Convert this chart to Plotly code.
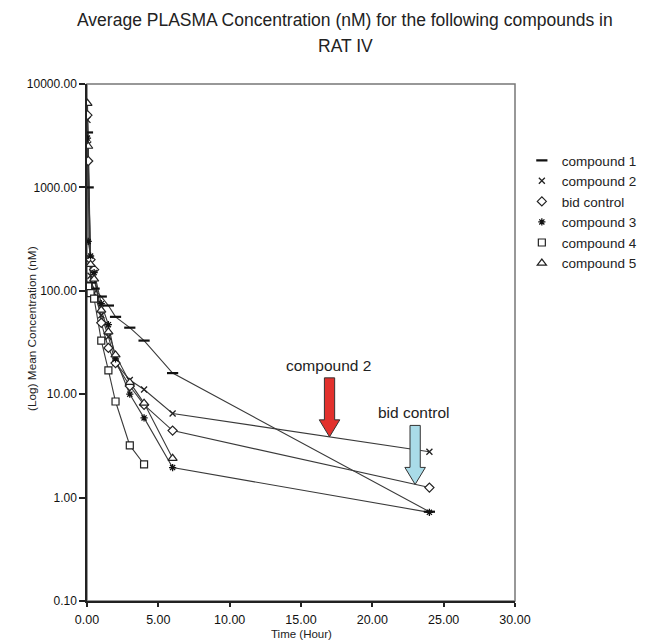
import math
import plotly.graph_objects as go

# ---------------- data ----------------
series_names = ["compound 1", "compound 2", "bid control", "compound 3", "compound 4", "compound 5"]

t_c1 = [0.033, 0.083, 0.25, 0.5, 1, 1.5, 2, 3, 4, 6, 24]
v_c1 = [3400, 1000, 120, 105, 88, 72, 56, 44, 33, 16, 0.73]

t_c2 = [0.033, 0.083, 0.25, 0.5, 1, 1.5, 2, 3, 4, 6, 24]
v_c2 = [4500, 2600, 140, 95, 58, 36, 20, 13.7, 11.1, 6.5, 2.78]

t_bid = [0.033, 0.083, 0.25, 0.5, 1, 1.5, 2, 3, 4, 6, 24]
v_bid = [5000, 1800, 200, 160, 49, 28, 20, 12, 7.9, 4.45, 1.25]

t_c3 = [0.033, 0.083, 0.25, 0.5, 1, 1.5, 2, 3, 4, 6, 24]
v_c3 = [3000, 300, 217, 150, 75, 47, 22, 10, 5.9, 1.95, 0.72]

t_c4 = [0.083, 0.25, 0.5, 1, 1.5, 2, 3, 4]
v_c4 = [110, 95, 84, 33, 17, 8.5, 3.2, 2.1]

t_c5 = [0.033, 0.083, 0.25, 0.5, 1, 1.5, 2, 3, 4, 6]
v_c5 = [6500, 2500, 180, 130, 65, 40, 24, 13, 8.2, 2.4]

x_tick_vals = [0, 5, 10, 15, 20, 25, 30]
x_tick_labels = ["0.00", "5.00", "10.00", "15.00", "20.00", "25.00", "30.00"]
y_tick_vals = [0.1, 1, 10, 100, 1000, 10000]
y_tick_labels = ["0.10", "1.00", "10.00", "100.00", "1000.00", "10000.00"]

arrow_c2_time = 17.0
arrow_bid_time = 23.0

# ---------------- styling ----------------
FONT = "Liberation Sans, Arial, sans-serif"
LINE_COLOR = "#3a3a3a"
PAGE_OFFSET = 8  # default body margin of the html page

styles = {
    "compound 1": dict(symbol="line-ew-open", size=8, color="#111", line=dict(color="#111", width=2.2)),
    "compound 2": dict(symbol="x-thin-open", size=6, color="#222", line=dict(color="#222", width=1.3)),
    "bid control": dict(symbol="diamond", size=7, color="white", line=dict(color="#222", width=1.2)),
    "compound 3": dict(symbol="asterisk-open", size=6, color="#111", line=dict(color="#111", width=1.3)),
    "compound 4": dict(symbol="square", size=7, color="white", line=dict(color="#222", width=1.2)),
    "compound 5": dict(symbol="triangle-up", size=8, color="white", line=dict(color="#222", width=1.2)),
}

data = {
    "compound 1": (t_c1, v_c1),
    "compound 2": (t_c2, v_c2),
    "bid control": (t_bid, v_bid),
    "compound 3": (t_c3, v_c3),
    "compound 4": (t_c4, v_c4),
    "compound 5": (t_c5, v_c5),
}

fig = go.Figure()

for name in series_names:
    t, v = data[name]
    fig.add_trace(go.Scatter(x=t, y=v, mode="lines", line=dict(color=LINE_COLOR, width=1.1),
                             showlegend=False, hoverinfo="skip"))
for name in series_names:
    t, v = data[name]
    fig.add_trace(go.Scatter(x=t, y=v, mode="markers", name=name, marker=styles[name]))


def log_interp(ts, vs, tq):
    for i in range(len(ts) - 1):
        if ts[i] <= tq <= ts[i + 1]:
            f = (tq - ts[i]) / (ts[i + 1] - ts[i])
            return 10 ** (math.log10(vs[i]) + f * (math.log10(vs[i + 1]) - math.log10(vs[i])))
    return vs[-1]


YMIN_LOG, YMAX_LOG = -1, 4
PLOT_W = 428.0
PLOT_H = 517.0


def paper_y(v):
    return (math.log10(v) - YMIN_LOG) / (YMAX_LOG - YMIN_LOG)


def block_arrow(tx, tip_val, fill):
    py = paper_y(tip_val)
    px = 1.0 / PLOT_H
    hw_shaft = 0.36   # hours
    hw_head = 0.72
    head_h = 17 * px
    total_h = 59 * px
    path = (f"M {tx},{py} L {tx - hw_head},{py + head_h} L {tx - hw_shaft},{py + head_h} "
            f"L {tx - hw_shaft},{py + total_h} L {tx + hw_shaft},{py + total_h} "
            f"L {tx + hw_shaft},{py + head_h} L {tx + hw_head},{py + head_h} Z")
    return dict(type="path", xref="x", yref="paper", path=path, fillcolor=fill,
                line=dict(color="#333", width=1))


c2_tip = log_interp(t_c2, v_c2, arrow_c2_time)
bid_tip = log_interp(t_bid, v_bid, arrow_bid_time)

shapes = [
    block_arrow(arrow_c2_time, c2_tip, "#e2312d"),
    block_arrow(arrow_bid_time, bid_tip, "#a9dbe8"),
    dict(type="rect", xref="paper", yref="paper", x0=0, x1=1, y0=0, y1=1,
         line=dict(color="#777", width=1.5), fillcolor="rgba(0,0,0,0)", layer="below"),
]

annotations = [
    dict(text="Average PLASMA Concentration (nM) for the following compounds in",
         xref="paper", yref="paper", x=0.603, y=1 + (84 - 20) / PLOT_H, showarrow=False,
         font=dict(family=FONT, size=17.5, color="#222"), xanchor="center", yanchor="middle"),
    dict(text="RAT IV", xref="paper", yref="paper", x=0.603, y=1 + (84 - 46) / PLOT_H,
         showarrow=False, font=dict(family=FONT, size=17.5, color="#222"),
         xanchor="center", yanchor="middle"),
    dict(text="(Log) Mean Concentration (nM)", xref="paper", yref="paper",
         x=(32 - 87) / PLOT_W, y=(601 - 329) / PLOT_H, textangle=-90, showarrow=False,
         font=dict(family=FONT, size=11.8, color="#222"), xanchor="center", yanchor="middle"),
    dict(text="Time (Hour)", xref="paper", yref="paper", x=0.5, y=-(634 - 601) / PLOT_H,
         showarrow=False, font=dict(family=FONT, size=11.5, color="#222"),
         xanchor="center", yanchor="middle"),
    dict(text="compound 2", xref="x", yref="paper", x=arrow_c2_time - 0.1,
         y=paper_y(c2_tip) + (437 - 366) / PLOT_H, showarrow=False,
         font=dict(family=FONT, size=15.5, color="#222"), xanchor="center", yanchor="middle"),
    dict(text="bid control", xref="x", yref="paper", x=arrow_bid_time - 0.1,
         y=paper_y(bid_tip) + (484 - 412) / PLOT_H, showarrow=False,
         font=dict(family=FONT, size=15.5, color="#222"), xanchor="center", yanchor="middle"),
]

fig.update_layout(
    width=653 - PAGE_OFFSET, height=641 - PAGE_OFFSET,
    margin=dict(l=87 - PAGE_OFFSET, r=138, t=84 - PAGE_OFFSET, b=40, autoexpand=False),
    paper_bgcolor="white", plot_bgcolor="white",
    font=dict(family=FONT, size=13, color="#222"),
    showlegend=True,
    legend=dict(x=1.016, xanchor="left", y=0.882, yanchor="top",
                font=dict(family=FONT, size=13.5, color="#222"),
                bgcolor="rgba(0,0,0,0)", borderwidth=0, tracegroupgap=0),
    shapes=shapes,
    annotations=annotations,
    xaxis=dict(range=[0, 30], tickvals=x_tick_vals, ticktext=x_tick_labels,
               showgrid=False, zeroline=False, showline=True, linecolor="#222", linewidth=1.5,
               ticks="outside", ticklen=4, tickcolor="#222", tickwidth=1.5, ticklabelstandoff=2,
               tickfont=dict(family=FONT, size=12.5, color="#111")),
    yaxis=dict(type="log", range=[YMIN_LOG, YMAX_LOG], tickvals=y_tick_vals, ticktext=y_tick_labels,
               showgrid=False, zeroline=False, showline=True, linecolor="#222", linewidth=1.5,
               ticks="outside", ticklen=6, tickcolor="#222", tickwidth=1.5,
               tickfont=dict(family=FONT, size=12, color="#111")),
)

fig.write_html("out.html")
